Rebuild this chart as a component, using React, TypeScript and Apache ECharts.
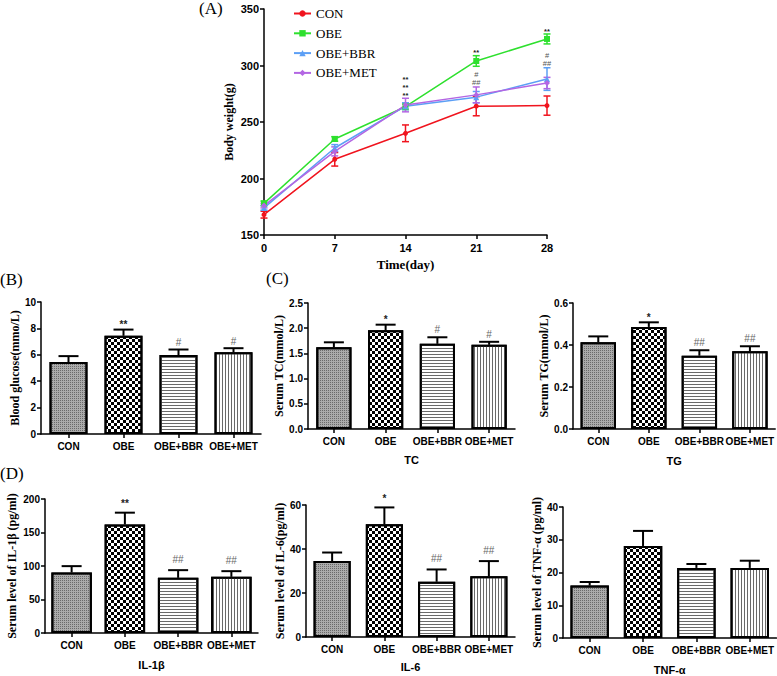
import React, { useEffect, useRef } from 'react';
import * as echarts from 'echarts';

// ---------- Data ----------
const days = [0, 7, 14, 21, 28];
const groupNames = ['CON', 'OBE', 'OBE+BBR', 'OBE+MET'];

const conWeight = [168, 217, 240, 264, 264.5];
const conWeightErr = [3, 6, 7.4, 8.5, 8.5];
const obeWeight = [178, 235, 263.5, 304, 323.5];
const obeWeightErr = [2, 2, 2.5, 4.7, 4.4];
const bbrWeight = [174, 227, 264, 272, 288];
const bbrWeightErr = [2, 3, 3, 5, 10];
const metWeight = [176, 224, 265, 274, 284.5];
const metWeightErr = [2, 4, 6, 7, 5];

// significance marks on the body weight plot (listed from bottom to top)
const weightSignifs = [
  { day: 14, groups: [1, 2, 3], marks: ['**', '**', '**'] },
  { day: 21, groups: [1], marks: ['**'] },
  { day: 21, groups: [2, 3], marks: ['##', '#'] },
  { day: 28, groups: [1], marks: ['**'] },
  { day: 28, groups: [2, 3], marks: ['##', '#'] },
];

const glucoseMean = [5.45, 7.44, 5.98, 6.2];
const glucoseErr = [0.45, 0.47, 0.42, 0.3];
const glucoseSig = ['', '**', '#', '#'];

const tcMean = [1.62, 1.96, 1.69, 1.67];
const tcErr = [0.1, 0.11, 0.13, 0.06];
const tcSig = ['', '*', '#', '#'];

const tgMean = [0.413, 0.486, 0.349, 0.37];
const tgErr = [0.028, 0.022, 0.026, 0.024];
const tgSig = ['', '*', '##', '##'];

const il1bMean = [90.3, 162, 82.3, 83.8];
const il1bErr = [9.5, 17.6, 11.5, 8.5];
const il1bSig = ['', '**', '##', '##'];

const il6Mean = [34.5, 51.3, 25.1, 27.6];
const il6Err = [3.9, 7.6, 5.6, 6.9];
const il6Sig = ['', '*', '##', '##'];

const tnfMean = [16.0, 28.1, 21.4, 21.4];
const tnfErr = [1.1, 4.6, 1.2, 2.2];
const tnfSig = ['', '', '', ''];

// ---------- Styles ----------
const lineColors = ['#f0141e', '#2ee02e', '#5c9ff5', '#b366e3'];
const lineSymbols = ['circle', 'rect', 'triangle', 'diamond'];

const SANS = 'Liberation Sans';
const SERIF = 'Liberation Serif';

const barFills = ['#ababab', '#ffffff', '#ffffff', '#ffffff'];
const barDecals: any[] = [
  { symbol: 'rect', symbolSize: 1, dashArrayX: [1, 1], dashArrayY: [1, 1], color: '#6a6a6a' },
  { symbol: 'rect', symbolSize: 1, dashArrayX: [[3, 3], [0, 3, 3, 0]], dashArrayY: [3, 0], color: '#000' },
  { symbol: 'rect', symbolSize: 1, dashArrayX: [1, 0], dashArrayY: [1, 2], color: '#6a6a6a' },
  { symbol: 'rect', symbolSize: 1, dashArrayX: [1, 2], dashArrayY: [1, 0], color: '#6a6a6a' },
];

const axisLineStyle = { color: '#000', width: 1.5 };

type Panel = {
  grid: { left: number; top: number; width: number; height: number };
  means: number[];
  errs: number[];
  sigs: string[];
  max: number;
  interval: number;
  decimals: number;
  yName: string;
  yNameGap: number;
  xName: string;
  xNameGap: number;
  barWidth: string;
  sigGap: number;
};

const panels: Panel[] = [
  { grid: { left: 41, top: 302, width: 220, height: 132 }, means: glucoseMean, errs: glucoseErr, sigs: glucoseSig, max: 10, interval: 2, decimals: 0, yName: 'Blood glucose(mmo/L)', yNameGap: 20, xName: '', xNameGap: 25, barWidth: '69%', sigGap: 7 },
  { grid: { left: 308, top: 303, width: 207, height: 126 }, means: tcMean, errs: tcErr, sigs: tcSig, max: 2.5, interval: 0.5, decimals: 1, yName: 'Serum TC(mmol/L)', yNameGap: 20, xName: 'TC', xNameGap: 25, barWidth: '68%', sigGap: 7.5 },
  { grid: { left: 573, top: 303, width: 204, height: 126 }, means: tgMean, errs: tgErr, sigs: tgSig, max: 0.6, interval: 0.2, decimals: 1, yName: 'Serum TG(mmol/L)', yNameGap: 20, xName: 'TG', xNameGap: 26, barWidth: '70%', sigGap: 7.5 },
  { grid: { left: 45, top: 499, width: 213, height: 134 }, means: il1bMean, errs: il1bErr, sigs: il1bSig, max: 200, interval: 50, decimals: 0, yName: 'Serum level of IL-1β (pg/ml)', yNameGap: 27, xName: 'IL-1β', xNameGap: 26, barWidth: '76%', sigGap: 11 },
  { grid: { left: 306, top: 505, width: 209, height: 132 }, means: il6Mean, errs: il6Err, sigs: il6Sig, max: 60, interval: 20, decimals: 0, yName: 'Serum level of IL-6(pg/ml)', yNameGap: 20, xName: 'IL-6', xNameGap: 24, barWidth: '71%', sigGap: 11 },
  { grid: { left: 563, top: 507, width: 214, height: 133 }, means: tnfMean, errs: tnfErr, sigs: tnfSig, max: 40, interval: 10, decimals: 0, yName: 'Serum level of TNF-α (pg/ml)', yNameGap: 16, xName: 'TNF-α', xNameGap: 26, barWidth: '72%', sigGap: 10 },
];

function buildOption() {
  const weights = [conWeight, obeWeight, bbrWeight, metWeight];
  const weightErrs = [conWeightErr, obeWeightErr, bbrWeightErr, metWeightErr];

  const grids: any[] = [{ left: 264, top: 9, width: 283, height: 226, containLabel: false }];
  const xAxes: any[] = [
    {
      gridIndex: 0,
      type: 'value',
      min: 0,
      max: 28,
      interval: 7,
      axisLine: { show: true, lineStyle: axisLineStyle },
      axisTick: { show: true, length: 4, lineStyle: axisLineStyle },
      splitLine: { show: false },
      axisLabel: { color: '#000', fontFamily: SANS, fontWeight: 'bold', fontSize: 11, margin: 7 },
      name: 'Time(day)',
      nameLocation: 'middle',
      nameGap: 23,
      nameTextStyle: { color: '#000', fontFamily: SERIF, fontWeight: 'bold', fontSize: 13 },
    },
  ];
  const yAxes: any[] = [
    {
      gridIndex: 0,
      type: 'value',
      min: 150,
      max: 350,
      interval: 50,
      axisLine: { show: true, lineStyle: axisLineStyle },
      axisTick: { show: true, length: 4, lineStyle: axisLineStyle },
      splitLine: { show: false },
      axisLabel: { color: '#000', fontFamily: SANS, fontWeight: 'bold', fontSize: 11, margin: 5 },
      name: 'Body weight(g)',
      nameLocation: 'middle',
      nameGap: 29,
      nameRotate: 90,
      nameTextStyle: { color: '#000', fontFamily: SERIF, fontWeight: 'bold', fontSize: 12 },
    },
  ];
  const series: any[] = [];

  // Body weight lines
  groupNames.forEach((name, g) => {
    const color = lineColors[g];
    series.push({
      type: 'custom',
      name: 'err-' + name,
      xAxisIndex: 0,
      yAxisIndex: 0,
      silent: true,
      z: 2,
      data: days.map((d, i) => [d, weights[g][i], weightErrs[g][i]]),
      renderItem: (params: any, api: any) => {
        const x = api.value(0);
        const m = api.value(1);
        const e = api.value(2);
        const top = api.coord([x, m + e]);
        const bot = api.coord([x, m - e]);
        const hw = 3.5;
        const st = { stroke: color, lineWidth: 1.5 };
        return {
          type: 'group',
          children: [
            { type: 'line', shape: { x1: top[0], y1: top[1], x2: bot[0], y2: bot[1] }, style: st },
            { type: 'line', shape: { x1: top[0] - hw, y1: top[1], x2: top[0] + hw, y2: top[1] }, style: st },
            { type: 'line', shape: { x1: bot[0] - hw, y1: bot[1], x2: bot[0] + hw, y2: bot[1] }, style: st },
          ],
        };
      },
    });
    series.push({
      type: 'line',
      name,
      xAxisIndex: 0,
      yAxisIndex: 0,
      z: 3,
      data: days.map((d, i) => [d, weights[g][i]]),
      symbol: lineSymbols[g],
      symbolSize: g === 0 ? 5 : 6,
      itemStyle: { color },
      lineStyle: { color, width: 1.5 },
    });
  });

  // significance marks on body weight (stacked tightly above an anchor)
  const sigAnchors = weightSignifs.map((s) => {
    const idx = days.indexOf(s.day);
    const top = Math.max(...s.groups.map((g) => weights[g][idx] + weightErrs[g][idx]));
    return [s.day, top];
  });
  const stackStep = 7.8;
  const markSize = 7.5;
  series.push({
    type: 'custom',
    name: 'sig-weight',
    xAxisIndex: 0,
    yAxisIndex: 0,
    silent: true,
    z: 4,
    data: sigAnchors,
    renderItem: (params: any, api: any) => {
      const p = api.coord([api.value(0), api.value(1)]);
      const marks = weightSignifs[params.dataIndex].marks;
      return {
        type: 'group',
        children: marks.map((mk, k) => {
          const star = mk.indexOf('*') >= 0;
          return {
            type: 'text',
            x: p[0],
            y: p[1] - 4.5 - k * stackStep + (star ? 1.7 : 0),
            style: {
              text: mk,
              fill: star ? '#222' : '#555',
              font: `${star ? 'bold ' : ''}${markSize}px ${SANS}`,
              lineHeight: markSize,
              align: 'center',
              verticalAlign: 'middle',
            },
          };
        }),
      };
    },
  });

  // Bar panels
  panels.forEach((p, k) => {
    const gi = k + 1;
    grids.push({ ...p.grid, containLabel: false });
    xAxes.push({
      gridIndex: gi,
      type: 'category',
      data: groupNames,
      axisLine: { show: true, lineStyle: axisLineStyle },
      axisTick: { show: true, alignWithLabel: true, length: 4, lineStyle: axisLineStyle },
      axisLabel: { color: '#000', fontFamily: SANS, fontWeight: 'bold', fontSize: 10, margin: 7, interval: 0 },
      name: p.xName,
      nameLocation: 'middle',
      nameGap: p.xNameGap,
      nameTextStyle: { color: '#000', fontFamily: SANS, fontWeight: 'bold', fontSize: 11 },
    });
    yAxes.push({
      gridIndex: gi,
      type: 'value',
      min: 0,
      max: p.max,
      interval: p.interval,
      axisLine: { show: true, lineStyle: axisLineStyle },
      axisTick: { show: true, length: 4, lineStyle: axisLineStyle },
      splitLine: { show: false },
      axisLabel: {
        color: '#000',
        fontFamily: SANS,
        fontWeight: 'bold',
        fontSize: 10,
        margin: 5,
        formatter: (v: number) => v.toFixed(p.decimals),
      },
      name: p.yName,
      nameLocation: 'middle',
      nameGap: p.yNameGap,
      nameRotate: 90,
      nameTextStyle: { color: '#000', fontFamily: SERIF, fontWeight: 'bold', fontSize: 12 },
    });
    series.push({
      type: 'bar',
      name: 'bar-' + k,
      xAxisIndex: gi,
      yAxisIndex: gi,
      barWidth: p.barWidth,
      z: 2,
      data: p.means.map((v, i) => ({
        value: v,
        itemStyle: {
          color: barFills[i],
          borderColor: '#000',
          borderWidth: 2,
          decal: barDecals[i],
        },
      })),
    });
    series.push({
      type: 'custom',
      name: 'barerr-' + k,
      xAxisIndex: gi,
      yAxisIndex: gi,
      silent: true,
      z: 3,
      data: p.means.map((v, i) => [i, v, p.errs[i]]),
      renderItem: (params: any, api: any) => {
        const i = api.value(0);
        const m = api.value(1);
        const e = api.value(2);
        const base = api.coord([i, m]);
        const top = api.coord([i, m + e]);
        const hw = 10;
        const st = { stroke: '#000', lineWidth: 2 };
        const mk = p.sigs[params.dataIndex];
        const star = mk.indexOf('*') >= 0;
        const children: any[] = [
          { type: 'line', shape: { x1: base[0], y1: base[1], x2: top[0], y2: top[1] }, style: st },
          { type: 'line', shape: { x1: top[0] - hw, y1: top[1], x2: top[0] + hw, y2: top[1] }, style: st },
        ];
        if (mk) {
          children.push({
            type: 'text',
            x: top[0],
            y: top[1] - p.sigGap + (star ? 2.2 : 0),
            style: {
              text: mk,
              fill: star ? '#222' : '#666',
              font: `${star ? 'bold ' : ''}10px ${SANS}`,
              align: 'center',
              verticalAlign: 'middle',
            },
          });
        }
        return { type: 'group', children };
      },
    });
  });

  const titleFont = `17px ${SERIF}`;
  const graphic = [
    { type: 'text', left: 199, top: 0, style: { text: '(A)', font: titleFont, fill: '#000' } },
    { type: 'text', left: 0, top: 271, style: { text: '(B)', font: titleFont, fill: '#000' } },
    { type: 'text', left: 266, top: 270, style: { text: '(C)', font: titleFont, fill: '#000' } },
    { type: 'text', left: 0, top: 465, style: { text: '(D)', font: titleFont, fill: '#000' } },
  ];

  return {
    animation: false,
    backgroundColor: '#ffffff',
    textStyle: { fontFamily: SANS },
    grid: grids,
    xAxis: xAxes,
    yAxis: yAxes,
    legend: {
      data: groupNames,
      orient: 'vertical',
      left: 288,
      top: 2,
      itemWidth: 17,
      itemHeight: 8,
      itemGap: 6.8,
      selectedMode: false,
      textStyle: { fontFamily: SERIF, fontSize: 13, color: '#000', lineHeight: 12 },
    },
    graphic,
    series,
  };
}

export default function App() {
  const ref = useRef<HTMLDivElement>(null);
  useEffect(() => {
    document.body.style.margin = '0';
    if (!ref.current) return;
    const chart = echarts.init(ref.current, undefined, { renderer: 'svg', width: 777, height: 676 });
    chart.setOption(buildOption() as any);
    return () => chart.dispose();
  }, []);
  return <div ref={ref} style={{ width: 777, height: 676 }} />;
}
